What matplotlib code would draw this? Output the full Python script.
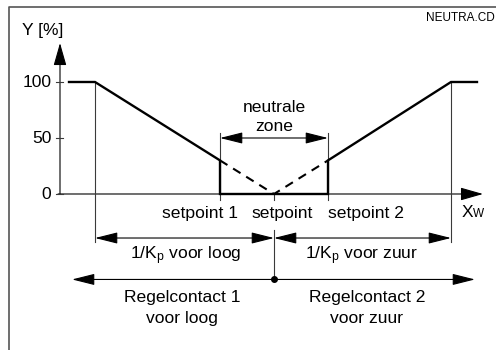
import matplotlib
matplotlib.use("Agg")
import matplotlib.pyplot as plt
from matplotlib.patches import FancyArrowPatch, ArrowStyle

plt.rcParams['font.family'] = ['Liberation Sans', 'DejaVu Sans']
plt.rcParams['mathtext.fontset'] = 'custom'
plt.rcParams['mathtext.rm'] = 'Liberation Sans'
plt.rcParams['mathtext.it'] = 'Liberation Sans'

# ---- data ----
curve_x = [69, 95, 220, 220, 328, 328, 451, 477]
curve_y = [100, 100, 30, 0, 0, 30, 100, 100]
dash_x = [220, 274, 328]
dash_y = [30, 0, 30]
yticks = [0, 50, 100]
ytick_labels = ['0', '50', '100']
sp1, sp, sp2 = 220, 274, 328
kp_lo, kp_hi = 95, 451
setpoint_labels = ['setpoint 1', 'setpoint', 'setpoint 2']
kp_labels = ['1/K$_\\mathrm{p}$ voor loog', '1/K$_\\mathrm{p}$ voor zuur']
contact_labels = ['Regelcontact 1\nvoor loog', 'Regelcontact 2\nvoor zuur']

FS = 12.6
THIN = '#3a3a3a'

fig = plt.figure(figsize=(4.96, 3.5), dpi=100)
ax = fig.add_axes([0, 0, 1, 1])
ax.set_xlim(0, 496)
ax.set_ylim(-139.29, 173.21)
ax.axis('off')


def arrow(p0, p1, style='<|-|>', hw=3.5, hl=14, lw=0.8):
    a = FancyArrowPatch(p0, p1, arrowstyle=ArrowStyle(style, head_length=hl, head_width=hw),
                        mutation_scale=1, shrinkA=0, shrinkB=0, lw=lw,
                        color='black', clip_on=False)
    ax.add_patch(a)


# frame
ax.plot([9, 9, 496], [-139.3, 167.0, 167.0], color='#555555', lw=1.2, clip_on=False)

# axes
arrow((60, 0), (60, 134.8), style='-|>', hw=4.0, lw=0.8)
arrow((58, 0), (483, 0), style='-|>', hw=4.0, lw=0.8)
for t, lab in zip(yticks, ytick_labels):
    ax.plot([56, 63], [t, t], color=THIN, lw=0.8)
    ax.text(51.5, t - 4.5, lab, ha='right', va='baseline', fontsize=FS)

ax.text(22, 142, 'Y [%]', ha='left', va='baseline', fontsize=FS)
ax.text(495, 154.5, 'NEUTRA.CD', ha='right', va='baseline', fontsize=8.5)

# helper vertical lines
for x in (kp_lo, kp_hi):
    ax.plot([x, x], [100, -42.9], color=THIN, lw=0.8)
for x in (sp1, sp2):
    ax.plot([x, x], [54.5, -5.4], color=THIN, lw=0.8)
ax.plot([sp, sp], [0, -5.4], color=THIN, lw=0.8)
ax.plot([sp, sp], [-32, -76.3], color=THIN, lw=0.8)
ax.plot([sp], [-76.3], 'o', color='black', ms=4)

# curve
ax.plot(curve_x, curve_y, color='black', lw=1.7, solid_joinstyle='miter')
ax.plot(dash_x, dash_y, color='black', lw=1.5, dashes=(4.2, 3.2))

# neutral zone
arrow((sp1, 50), (sp2, 50))
ax.text(sp, 73.5, 'neutrale', ha='center', va='baseline', fontsize=FS)
ax.text(sp, 56.3, 'zone', ha='center', va='baseline', fontsize=FS)

# setpoint labels
for x, lab in zip([200, 282, 366], setpoint_labels):
    ax.text(x, -21.4, lab, ha='center', va='baseline', fontsize=FS)
ax.text(462, -20.5, 'X', ha='left', va='baseline', fontsize=12.5)
ax.text(472.5, -20.5, 'W', ha='left', va='baseline', fontsize=8.5)

# 1/Kp arrows
arrow((kp_lo, -39.3), (sp, -39.3))
arrow((sp, -39.3), (kp_hi, -39.3))
ax.text(186, -58, kp_labels[0], ha='center', va='baseline', fontsize=FS)
ax.text(362, -58, kp_labels[1], ha='center', va='baseline', fontsize=FS)

# contact arrows
arrow((sp, -76.3), (72, -76.3), style='-|>')
arrow((sp, -76.3), (475, -76.3), style='-|>')
for x, lab in zip([182, 367], contact_labels):
    l1, l2 = lab.split('\n')
    ax.text(x, -96, l1, ha='center', va='baseline', fontsize=FS)
    ax.text(x, -115.2, l2, ha='center', va='baseline', fontsize=FS)

fig.savefig('out.png', dpi=100)
